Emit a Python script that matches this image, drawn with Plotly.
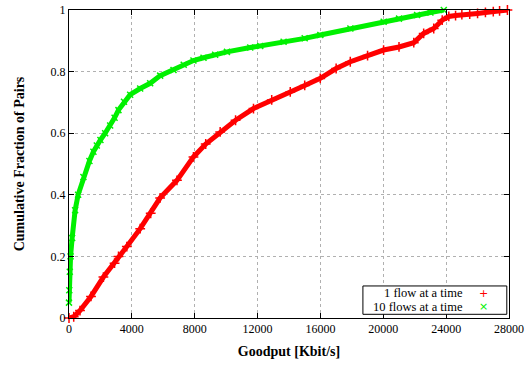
import plotly.graph_objects as go

# Goodput (Kbit/s) and cumulative fraction
one_flow_x = [0, 300, 700, 1400, 2190, 2900, 3150, 3680, 4530, 5200, 5800, 6870, 7920,
              8700, 9620, 10600, 11740, 12900, 14080, 15000, 15990, 17000, 17900, 19000,
              20020, 21000, 21940, 22570, 23210, 23750, 24170, 24600, 25000, 25500, 26000,
              26500, 27000, 27400, 27900]
one_flow_y = [0.0, 0.004, 0.024, 0.07, 0.133, 0.178, 0.2, 0.232, 0.29, 0.34, 0.39, 0.447,
              0.523, 0.565, 0.604, 0.642, 0.68, 0.708, 0.734, 0.755, 0.778, 0.81, 0.832,
              0.852, 0.87, 0.88, 0.894, 0.924, 0.94, 0.967, 0.979, 0.982, 0.985, 0.987,
              0.989, 0.992, 0.995, 0.997, 1.0]

ten_flows_x = [0, 20, 50, 100, 200, 390, 580, 917, 1300, 1554, 1770, 2000, 2300, 2618,
               2900, 3147, 3500, 3892, 4530, 5166, 5803, 6650, 7300, 7920, 8560, 9300, 10050,
               11535, 12170, 13656, 15000, 15994, 17906, 20025, 21000, 22150, 23000, 23850]
ten_flows_y = [0.05, 0.09, 0.15, 0.2, 0.26, 0.35, 0.4, 0.458, 0.51, 0.54, 0.56, 0.578,
               0.6, 0.625, 0.65, 0.675, 0.702, 0.725, 0.745, 0.762, 0.787, 0.805, 0.822,
               0.836, 0.845, 0.855, 0.864, 0.878, 0.883, 0.897, 0.908, 0.919, 0.94, 0.962,
               0.972, 0.984, 0.992, 1.0]

x_ticks = [0, 4000, 8000, 12000, 16000, 20000, 24000, 28000]
y_ticks = [0, 0.2, 0.4, 0.6, 0.8, 1]
series_names = ["1 flow at a time", "10 flows at a time"]

RED = "#ff0000"
GREEN = "#00f000"
SERIF = "Liberation Serif"

fig = go.Figure()

# thick band underneath (dense markers in the original)
fig.add_trace(go.Scatter(x=one_flow_x, y=one_flow_y, mode="lines",
                         line=dict(color=RED, width=5), showlegend=False,
                         hoverinfo="skip", cliponaxis=False))
fig.add_trace(go.Scatter(x=ten_flows_x, y=ten_flows_y, mode="lines",
                         line=dict(color=GREEN, width=5), showlegend=False,
                         hoverinfo="skip", cliponaxis=False))
fig.add_trace(go.Scatter(x=one_flow_x, y=one_flow_y, mode="markers", name=series_names[0],
                         marker=dict(symbol="cross-thin", size=7,
                                     line=dict(color=RED, width=1.5)),
                         showlegend=False, cliponaxis=False))
fig.add_trace(go.Scatter(x=ten_flows_x, y=ten_flows_y, mode="markers", name=series_names[1],
                         marker=dict(symbol="x-thin", size=6,
                                     line=dict(color=GREEN, width=1.5)),
                         showlegend=False, cliponaxis=False))

axis_common = dict(
    showline=True, linecolor="black", linewidth=1, mirror="allticks",
    ticks="inside", ticklen=5, tickcolor="black", tickwidth=1,
    showgrid=True, gridcolor="#b0b0b0", griddash="dot", gridwidth=1,
    zeroline=False, automargin=False,
    tickfont=dict(family=SERIF, size=12, color="black"),
)

fig.update_xaxes(range=[0, 28000], tickvals=x_ticks,
                 ticktext=[str(v) for v in x_ticks],
                 title=dict(text="Goodput [Kbit/s]", standoff=10,
                            font=dict(family=SERIF, size=14, color="black", weight="bold")),
                 **axis_common)
fig.update_yaxes(range=[0, 1], tickvals=y_ticks,
                 ticktext=["0", "0.2", "0.4", "0.6", "0.8", "1"],
                 title=dict(text="Cumulative Fraction of Pairs", standoff=22,
                            font=dict(family=SERIF, size=14, color="black", weight="bold")),
                 **axis_common)

# legend box drawn like gnuplot's (text right, sample at right)
fig.add_shape(type="rect", xref="paper", yref="paper",
              x0=0.668, x1=0.995, y0=0.012, y1=0.104,
              line=dict(color="black", width=1), fillcolor="white", layer="above")
for name, sym, col, yy in [
        (series_names[0], "+", RED, 0.080),
        (series_names[1], "×", GREEN, 0.036)]:
    fig.add_annotation(xref="paper", yref="paper", x=0.9, y=yy, text=name,
                       showarrow=False, xanchor="right", yanchor="middle",
                       font=dict(family=SERIF, size=12.5, color="black"))
    fig.add_annotation(xref="paper", yref="paper", x=0.941, y=yy, text=sym,
                       showarrow=False, xanchor="center", yanchor="middle",
                       font=dict(family="DejaVu Sans", size=11, color=col))

fig.update_layout(
    width=525, height=365,
    margin=dict(l=69, r=16, t=10, b=47),
    paper_bgcolor="white", plot_bgcolor="white",
    showlegend=False,
)

fig.write_html("out.html")
